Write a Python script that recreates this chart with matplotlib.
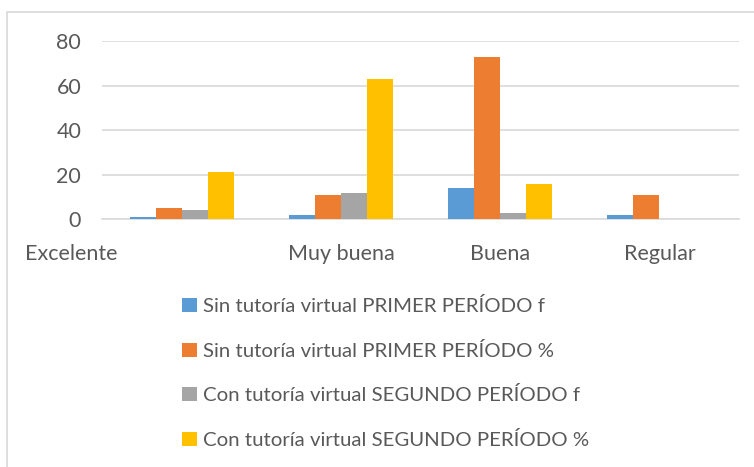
import numpy as np
import matplotlib
matplotlib.use('Agg')
from matplotlib import pyplot as plt
from matplotlib.patches import Rectangle
import matplotlib.transforms as mtransforms

categorias = ['Excelente', 'Muy buena', 'Buena', 'Regular']
series = ['Sin tutoría virtual PRIMER PERÍODO f',
          'Sin tutoría virtual PRIMER PERÍODO %',
          'Con tutoría virtual SEGUNDO PERÍODO f',
          'Con tutoría virtual SEGUNDO PERÍODO %']
sin_f = [1, 2, 14, 2]
sin_pct = [5, 11, 73, 11]
con_f = [4, 12, 3, 0]
con_pct = [21, 63, 16, 0]
colores = ['#5B9BD5', '#ED7D31', '#A5A5A5', '#FFC000']

plt.rcParams['font.family'] = ['Lato', 'DejaVu Sans']
txt = '#595959'
fs = 15.5

fig = plt.figure(figsize=(7.54, 4.67), dpi=100)
fig.patches.append(Rectangle((7 / 754, -0.01), 1.0, 1 - 12 / 467 + 0.01,
                             transform=fig.transFigure, fill=False,
                             edgecolor='#d9d9d9', linewidth=1.2))
ax = fig.add_axes([102 / 754, 1 - 219.3 / 467, 637 / 754, 178.3 / 467])

x = np.arange(len(categorias))
w = 0.163
datos = [sin_f, sin_pct, con_f, con_pct]
for i, (vals, nombre, c) in enumerate(zip(datos, series, colores)):
    ax.bar(x + (i - 1.5) * w, vals, width=w, color=c, label=nombre, zorder=3)

ax.set_xlim(-0.5, 3.5)
ax.set_ylim(0, 80)
ax.set_yticks([0, 20, 40, 60, 80])
ax.yaxis.grid(True, color='#d9d9d9', linewidth=1.2, zorder=0)
for s in ['top', 'right', 'left']:
    ax.spines[s].set_visible(False)
ax.spines['bottom'].set_color('#d9d9d9')
ax.spines['bottom'].set_linewidth(1.2)
ax.tick_params(length=0, labelsize=fs, labelcolor=txt)
ax.tick_params(axis='y', pad=15)
ax.tick_params(axis='x', pad=18)
ax.set_xticks(x)
ax.set_xticklabels(categorias)
# Excelente sale corrido a la izquierda en el original
lbl = ax.get_xticklabels()[0]
lbl.set_transform(lbl.get_transform() + mtransforms.ScaledTranslation(-1.10, 0, fig.dpi_scale_trans))

leg = fig.legend(loc='upper left', bbox_to_anchor=(164 / 754, 1 - 279 / 467),
                 frameon=False, fontsize=14.7, labelcolor=txt,
                 handlelength=0.7, handleheight=0.7, handletextpad=0.3,
                 labelspacing=1.3)

fig.savefig('out.png', dpi=100)
